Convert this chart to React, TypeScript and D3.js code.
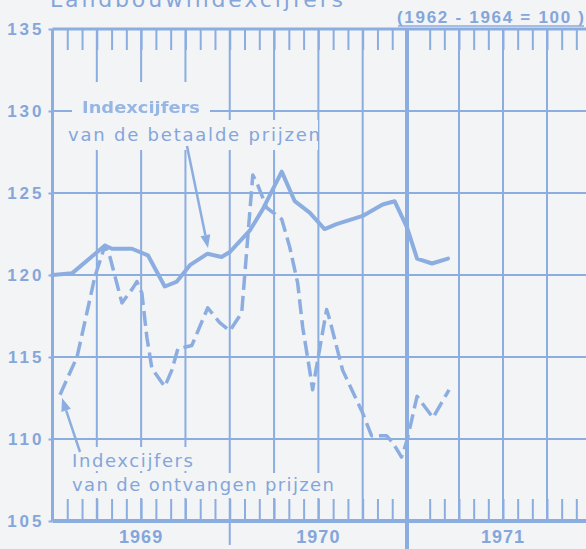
import React, { useEffect, useRef } from 'react'
import * as d3 from 'd3'

// months counted from Jan 1969 (0) to Jan 1971 (24) for the left panel,
// the 1971 panel is a separate strip with months counted from Jan 1971
const betaaldMonths = [0, 1.32, 3.55, 4.02, 5.38, 6.46, 7.6, 8.42, 9.3, 10.5, 11.45, 12.0, 13.35, 14.23, 15.52, 16.4, 17.41, 18.42, 19.23, 21.0, 22.35, 23.16, 24.0]
const betaaldValues = [120.0, 120.1, 121.8, 121.6, 121.6, 121.2, 119.3, 119.6, 120.6, 121.3, 121.1, 121.4, 122.7, 124.0, 126.3, 124.5, 123.8, 122.8, 123.1, 123.6, 124.3, 124.5, 122.9]
const betaald71Months = [0.14, 1.16, 2.25]
const betaald71Values = [121.0, 120.7, 121.0]

const ontvangenMonths = [0.51, 1.66, 2.33, 2.87, 3.55, 3.89, 4.7, 5.44, 5.71, 6.05, 6.39, 6.73, 7.6, 8.08, 8.49, 9.43, 10.51, 11.32, 12.0, 12.81, 13.56, 13.89, 14.5, 15.52, 16.06, 16.6, 16.94, 17.41, 17.61, 17.95, 18.56, 18.76, 19.64, 20.99, 21.6, 22.61, 23.02, 23.63, 24.0]
const ontvangenValues = [112.7, 115.0, 117.7, 119.9, 121.8, 121.1, 118.3, 119.2, 119.6, 118.9, 116.2, 114.3, 113.2, 114.2, 115.5, 115.7, 118.0, 117.1, 116.6, 117.7, 126.1, 125.5, 124.1, 123.4, 121.7, 119.5, 116.8, 114.2, 113.0, 114.8, 117.9, 117.3, 114.2, 111.6, 110.2, 110.2, 109.8, 108.9, 109.9]
const ontvangen71Months = [0.14, 1.23, 2.32]
const ontvangen71Values = [112.6, 111.3, 113.0]

const yTicks = [105, 110, 115, 120, 125, 130, 135]
const yGrid = [110, 115, 120, 125, 130]
const yearLabels = ['1969', '1970', '1971']

const W = 586
const H = 549
const BG = '#f3f4f6'
const BLUE = '#8cade0'
const TEXT = '#84a6da'

const drawChart = (el: SVGSVGElement) => {
  const svg = d3.select(el)
  svg.selectAll('*').remove()

  const xA = d3.scaleLinear().domain([0, 24]).range([52.5, 407])
  const xB = d3.scaleLinear().domain([0, 12]).range([415, 591])
  const y = d3.scaleLinear().domain([105, 135]).range([521, 29])
  const left = xA(0)
  const right = W

  svg.append('rect').attr('width', W).attr('height', H).attr('fill', BG)

  const defs = svg.append('defs')
  defs.append('filter').attr('id', 'smudge')
    .append('feGaussianBlur').attr('stdDeviation', 0.7)

  // title, cut off at the top of the picture
  svg.append('text')
    .attr('x', 50).attr('y', 7)
    .attr('font-family', 'DejaVu Sans').attr('font-size', 22)
    .attr('textLength', 293).attr('lengthAdjust', 'spacing')
    .attr('fill', TEXT)
    .text('Landbouwindexcijfers')

  svg.append('text')
    .attr('x', 397).attr('y', 23)
    .attr('font-family', 'Liberation Sans').attr('font-weight', 'bold').attr('font-size', 17)
    .attr('textLength', 187).attr('lengthAdjust', 'spacing')
    .attr('fill', TEXT)
    .text('(1962 - 1964 = 100 )')
  svg.append('line')
    .attr('x1', 398).attr('x2', 584).attr('y1', 26).attr('y2', 26)
    .attr('stroke', BLUE).attr('stroke-width', 1.5)

  // horizontal gridlines
  const grid = svg.append('g').attr('stroke', BLUE).attr('stroke-width', 2)
  grid.selectAll('line.h').data(yGrid).join('line')
    .attr('class', 'h')
    .attr('x1', left).attr('x2', right)
    .attr('y1', d => y(d)).attr('y2', d => y(d))

  // vertical quarter lines
  const quartersA = [3, 6, 9, 12, 15, 18, 21]
  const quartersB = [3, 6, 9]
  grid.selectAll('line.va').data(quartersA).join('line')
    .attr('class', 'va')
    .attr('x1', d => xA(d)).attr('x2', d => xA(d))
    .attr('y1', y(135)).attr('y2', d => (d === 12 ? 545 : y(105)))
  grid.selectAll('line.vb').data(quartersB).join('line')
    .attr('class', 'vb')
    .attr('x1', d => xB(d)).attr('x2', d => xB(d))
    .attr('y1', y(135)).attr('y2', y(105))

  // monthly ticks on top and bottom
  const topA = d3.axisBottom(xA).tickValues(d3.range(1, 24)).tickSize(21).tickFormat(() => '')
  const topB = d3.axisBottom(xB).tickValues(d3.range(1, 12)).tickSize(21).tickFormat(() => '')
  const botA = d3.axisTop(xA).tickValues(d3.range(1, 24)).tickSize(22).tickFormat(() => '')
  const botB = d3.axisTop(xB).tickValues(d3.range(1, 12)).tickSize(22).tickFormat(() => '')
  const tickGroups = [
    svg.append('g').attr('transform', `translate(0,${y(135)})`).call(topA),
    svg.append('g').attr('transform', `translate(0,${y(135)})`).call(topB),
    svg.append('g').attr('transform', `translate(0,${y(105)})`).call(botA),
    svg.append('g').attr('transform', `translate(0,${y(105)})`).call(botB),
  ]
  tickGroups.forEach(g => {
    g.select('.domain').remove()
    g.selectAll('line').attr('stroke', BLUE).attr('stroke-width', 2)
  })

  // clear the grid behind the annotations
  const clears = [
    [72, 82, 138, 40],
    [64, 120, 254, 30],
    [68, 447, 158, 24],
    [68, 473, 270, 25],
  ]
  svg.selectAll('rect.clear').data(clears).join('rect')
    .attr('class', 'clear')
    .attr('x', d => d[0]).attr('y', d => d[1])
    .attr('width', d => d[2]).attr('height', d => d[3])
    .attr('fill', BG)

  // frame
  svg.append('line').attr('x1', left).attr('x2', right).attr('y1', y(135)).attr('y2', y(135))
    .attr('stroke', BLUE).attr('stroke-width', 3)
  svg.append('line').attr('x1', left).attr('x2', right).attr('y1', y(105)).attr('y2', y(105))
    .attr('stroke', BLUE).attr('stroke-width', 4)
  svg.append('line').attr('x1', left).attr('x2', left).attr('y1', y(135)).attr('y2', y(105))
    .attr('stroke', BLUE).attr('stroke-width', 3)
  svg.append('line').attr('x1', xA(24)).attr('x2', xA(24)).attr('y1', y(135)).attr('y2', H)
    .attr('stroke', BLUE).attr('stroke-width', 4)

  // y axis labels
  const yAxis = d3.axisLeft(y).tickValues(yTicks).tickSize(4).tickPadding(4)
  const yg = svg.append('g').attr('transform', `translate(${left},0)`).call(yAxis)
  yg.select('.domain').remove()
  yg.selectAll('line').attr('stroke', BLUE).attr('stroke-width', 2)
  yg.selectAll('text')
    .attr('font-family', 'Liberation Sans').attr('font-weight', 'bold').attr('font-size', 17)
    .attr('letter-spacing', 3).attr('fill', TEXT)

  // year labels
  const yearX = [xA(6), xA(18), xB(6)]
  svg.selectAll('text.year').data(yearLabels).join('text')
    .attr('class', 'year')
    .attr('x', (d, i) => yearX[i]).attr('y', 543)
    .attr('text-anchor', 'middle')
    .attr('font-family', 'Liberation Sans').attr('font-weight', 'bold').attr('font-size', 18)
    .attr('letter-spacing', 1).attr('fill', TEXT)
    .text(d => d)

  // series
  const line = d3.line()
  const solidPts: [number, number][] = [
    ...betaaldMonths.map((m, i) => [xA(m), y(betaaldValues[i])] as [number, number]),
    ...betaald71Months.map((m, i) => [xB(m), y(betaald71Values[i])] as [number, number]),
  ]
  const dashedPts: [number, number][] = [
    ...ontvangenMonths.map((m, i) => [xA(m), y(ontvangenValues[i])] as [number, number]),
    ...ontvangen71Months.map((m, i) => [xB(m), y(ontvangen71Values[i])] as [number, number]),
  ]
  svg.append('path').attr('d', line(dashedPts))
    .attr('fill', 'none').attr('stroke', BLUE).attr('stroke-width', 3.5)
    .attr('stroke-dasharray', '15 6').attr('stroke-linejoin', 'round')
  svg.append('path').attr('d', line(solidPts))
    .attr('fill', 'none').attr('stroke', BLUE).attr('stroke-width', 4)
    .attr('stroke-linejoin', 'round').attr('stroke-linecap', 'round')

  // annotations
  svg.append('text')
    .attr('x', 82).attr('y', 113)
    .attr('font-family', 'DejaVu Sans').attr('font-weight', 'bold').attr('font-size', 16)
    .attr('textLength', 118).attr('lengthAdjust', 'spacingAndGlyphs')
    .attr('fill', '#97b6e3').attr('filter', 'url(#smudge)')
    .text('Indexcijfers')
  const labels = [
    { x: 68, y: 141, w: 252, t: 'van de betaalde prijzen' },
    { x: 72, y: 467, w: 121, t: 'Indexcijfers' },
    { x: 72, y: 491, w: 262, t: 'van de ontvangen prijzen' },
  ]
  svg.selectAll('text.note').data(labels).join('text')
    .attr('class', 'note')
    .attr('x', d => d.x).attr('y', d => d.y)
    .attr('font-family', 'DejaVu Sans').attr('font-size', 18)
    .attr('textLength', d => d.w).attr('lengthAdjust', 'spacing')
    .attr('fill', TEXT)
    .text(d => d.t)

  const arrows = [
    { from: [187, 146], to: [208, 248] },
    { from: [80, 452], to: [62, 398] },
  ]
  arrows.forEach(a => {
    const [x1, y1] = a.from
    const [x2, y2] = a.to
    const ang = Math.atan2(y2 - y1, x2 - x1)
    const len = 13
    const wid = 5
    const bx = x2 - len * Math.cos(ang)
    const by = y2 - len * Math.sin(ang)
    svg.append('line').attr('x1', x1).attr('y1', y1).attr('x2', bx).attr('y2', by)
      .attr('stroke', BLUE).attr('stroke-width', 2.5)
    svg.append('path')
      .attr('d', `M${x2},${y2}L${bx + wid * Math.sin(ang)},${by - wid * Math.cos(ang)}L${bx - wid * Math.sin(ang)},${by + wid * Math.cos(ang)}Z`)
      .attr('fill', BLUE)
  })
}

export default function App() {
  const svgRef = useRef<SVGSVGElement>(null)

  useEffect(() => {
    if (svgRef.current === null) {
      return
    }
    drawChart(svgRef.current)
  }, [])

  return (
    <svg
      ref={svgRef}
      width={W}
      height={H}
      style={{ position: 'absolute', left: 0, top: 0, display: 'block' }}
    />
  )
}
